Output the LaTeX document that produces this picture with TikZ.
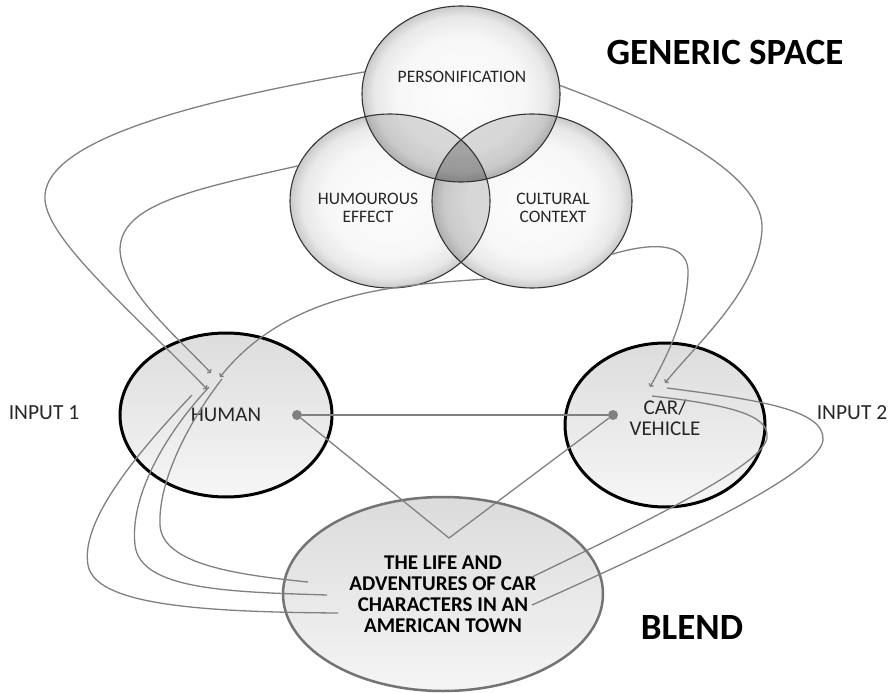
\documentclass[tikz,border=0pt]{standalone}
\usepackage{fontspec}
\setmainfont{Carlito}
\usetikzlibrary{shapes.geometric}
\usetikzlibrary{arrows.meta}
\pgfdeclareradialshading{glass}{\pgfpoint{0bp}{0bp}}{color(0bp)=(gray!2); color(16bp)=(gray!6); color(22bp)=(gray!18); color(25bp)=(gray!42); color(50bp)=(gray!42)}
\tikzset{space/.style = {ellipse, shading = glass, minimum width = 200, minimum height = 174, inner sep = 0}}
\tikzset{rim/.style = {draw = black!80, line width = 1.1}}
\tikzset{overlap/.style = {fill = black, fill opacity = 0.13}}
\tikzset{input/.style = {ellipse, draw, line width = 3, top color = gray!27, bottom color = gray!7,
                         inner sep = 0, minimum height = 164, align = center,
                         font = \fontsize{21}{21}\selectfont, text = black!85}}
\tikzset{blend/.style = {ellipse, draw = black!55, line width = 2.5, top color = gray!28, bottom color = gray!8,
                         inner sep = 0, minimum width = 320, minimum height = 194, align = center,
                         font = \fontsize{21}{21}\selectfont\bfseries}}
\tikzset{lbl/.style = {align = center, font = \fontsize{17.5}{18}\selectfont, text = black!85}}
\tikzset{title/.style = {font = \fontsize{37}{40}\selectfont\bfseries}}
\tikzset{side/.style = {font = \fontsize{21.5}{22}\selectfont, text = black!85}}
\tikzset{link/.style = {draw = gray, line width = 1.3}}
\tikzset{feed/.style = {link, -{Straight Barb[length = 2pt, width = 5pt]}}}
\tikzset{dot/.style = {fill = gray, circle, inner sep = 0, minimum size = 10}}

\begin{document}
\begin{tikzpicture}[x = 1pt, y = -1pt]
  \useasboundingbox (0, 0) rectangle (892, 693);
  % generic space
  \node [space] (humour) at (390, 201) {};
  \node [space] (culture) at (532, 201) {};
  \node [space, minimum width = 198, minimum height = 176] (pers) at (461, 94) {};
  \begin{scope}
    \clip (pers.center) ellipse (99 and 88);
    \fill [overlap] (humour.center) ellipse (100 and 87);
    \fill [overlap] (culture.center) ellipse (100 and 87);
  \end{scope}
  \begin{scope}
    \clip (humour.center) ellipse (100 and 87);
    \fill [overlap] (culture.center) ellipse (100 and 87);
  \end{scope}
  \draw [rim] (humour.center) ellipse (100 and 87);
  \draw [rim] (culture.center) ellipse (100 and 87);
  \draw [rim] (pers.center) ellipse (99 and 88);
  \node [lbl] (perstext) at (462, 77) {PERSONIFICATION};
  \node [lbl] (humourtext) at (368, 208) {HUMOUROUS\\EFFECT};
  \node [lbl] (culturetext) at (553, 208) {CULTURAL\\CONTEXT};
  \node [title] (generic) at (725, 52) {GENERIC SPACE};

  % inputs and blend
  \node [input, minimum width = 212] (human) at (226, 415) {HUMAN};
  \node [input, minimum width = 200] (car) at (665, 425) {\\[-22pt]CAR/\\VEHICLE};
  \node [blend] (blend) at (443, 594) {THE LIFE AND\\ADVENTURES OF CAR\\CHARACTERS IN AN\\AMERICAN TOWN};
  \node [side] (input1) at (44, 413) {INPUT 1};
  \node [side] (input2) at (852, 413) {INPUT 2};
  \node [title] (blendtitle) at (692, 627) {BLEND};

  % mappings
  \node [dot] (hdot) at (297, 415) {};
  \node [dot] (cdot) at (613, 415) {};
  \coordinate (apex) at (449, 538);
  \draw [link] (hdot) -- (cdot);
  \draw [link] (hdot) -- (apex) -- (cdot);

  \coordinate (hA) at (207, 389);
  \coordinate (hB) at (211, 373);
  \coordinate (hC) at (220, 377);
  \coordinate (hD) at (192, 395);
  \coordinate (hE) at (209, 387);
  \coordinate (hF) at (222, 379);
  \coordinate (cA) at (665, 383);
  \coordinate (cB) at (650, 387);
  \coordinate (cC) at (667, 388);
  \coordinate (cD) at (652, 396);
  \coordinate (bA) at (338, 613);
  \coordinate (bB) at (327, 595);
  \coordinate (bC) at (308, 582);
  \coordinate (bD) at (532, 605);
  \coordinate (bE) at (532, 577);

  \draw [feed] (pers.167) .. controls (200, 100) and (40, 140) .. (45, 200)
                          .. controls (48, 240) and (130, 310) .. (hA);
  \draw [feed] (humour.159) .. controls (190, 190) and (120, 205) .. (120, 250)
                            .. controls (122, 290) and (170, 330) .. (hB);
  \draw [feed] (culture.240) .. controls (400, 285) and (290, 290) .. (hC);
  \draw [link] (hD) .. controls (140, 450) and (80, 520) .. (88, 565)
                    .. controls (95, 605) and (200, 612) .. (bA);
  \draw [link] (hE) .. controls (160, 440) and (130, 500) .. (135, 545)
                    .. controls (140, 590) and (230, 592) .. (bB);
  \draw [link] (hF) .. controls (190, 420) and (158, 480) .. (160, 525)
                    .. controls (162, 565) and (240, 575) .. (bC);

  \draw [feed] (pers.5) .. controls (680, 130) and (765, 180) .. (762, 230)
                        .. controls (758, 290) and (700, 340) .. (cA);
  \draw [feed] (culture.-34) .. controls (660, 240) and (690, 245) .. (688, 275)
                             .. controls (686, 320) and (665, 360) .. (cB);
  \draw [link] (cC) .. controls (760, 400) and (825, 410) .. (823, 440)
                    .. controls (820, 470) and (700, 530) .. (bD);
  \draw [link] (cD) .. controls (730, 405) and (770, 415) .. (767, 438)
                    .. controls (763, 465) and (650, 520) .. (bE);
\end{tikzpicture}
\end{document}
